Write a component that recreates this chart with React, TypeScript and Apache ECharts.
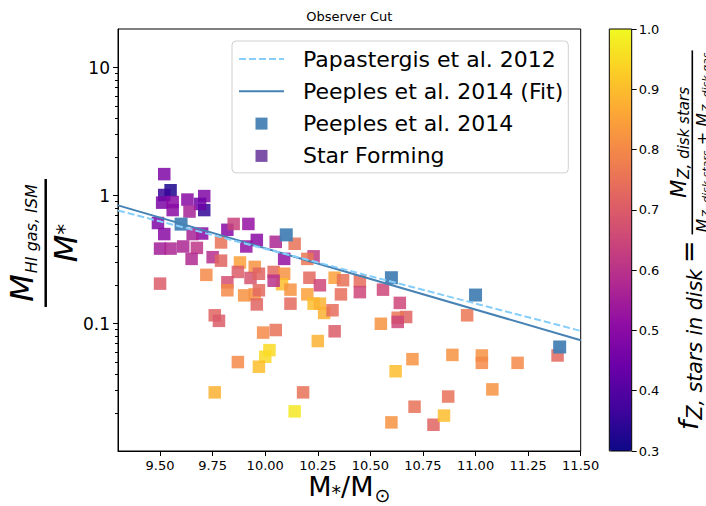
import React, { useEffect, useRef } from 'react';
import * as echarts from 'echarts';

// ---------- data ----------
// simulated galaxies: stellar mass (log Msun), HI gas fraction, f_Z stars in disk
const simMass = [
  9.52, 9.55, 9.52, 9.51, 9.56, 9.63, 9.71, 9.71, 9.69, 9.64, 9.56, 9.49, 9.52, 9.70, 9.655,
  9.50, 9.55, 9.61, 9.675, 9.65, 9.75, 9.79, 9.82, 9.85, 9.92, 9.96, 9.91, 10.05, 10.14, 10.09,
  10.23, 10.20, 9.79, 9.72, 9.88, 9.95, 9.87, 9.82, 9.93, 9.97, 9.50, 9.82, 9.90, 9.95, 9.96,
  9.97, 10.04, 10.09, 10.08, 10.12, 10.20, 10.12, 10.23, 10.26, 10.28, 10.32, 10.21, 10.26, 10.33,
  10.37, 10.36, 10.45, 10.45, 10.56, 10.64, 10.67, 10.63, 10.63, 10.55, 10.96, 9.76, 9.78, 9.99,
  10.05, 10.33, 10.25, 10.02, 10.00, 9.97, 9.87, 9.76, 10.18, 10.14, 10.60, 10.62, 10.70, 10.71,
  10.80, 10.85, 10.87, 10.89, 11.03, 11.03, 11.08, 11.20, 11.39, 10.04,
];
const simRatio = [
  1.47, 1.10, 1.01, 0.88, 0.89, 0.93, 0.99, 0.77, 0.86, 0.75, 0.77, 0.61, 0.50, 0.505, 0.50,
  0.385, 0.385, 0.40, 0.39, 0.32, 0.33, 0.43, 0.54, 0.60, 0.60, 0.45, 0.40, 0.435, 0.42, 0.32,
  0.335, 0.32, 0.31, 0.24, 0.30, 0.277, 0.253, 0.21, 0.227, 0.245, 0.205, 0.182, 0.166, 0.169, 0.141,
  0.182, 0.253, 0.245, 0.203, 0.184, 0.169, 0.143, 0.143, 0.143, 0.121, 0.127, 0.228, 0.199, 0.228,
  0.218, 0.169, 0.214, 0.176, 0.184, 0.145, 0.1125, 0.111, 0.103, 0.0996, 0.116, 0.116, 0.105, 0.085,
  0.089, 0.087, 0.073, 0.062, 0.055, 0.046, 0.050, 0.029, 0.029, 0.0206, 0.0169, 0.0424, 0.0527, 0.0224,
  0.0162, 0.0191, 0.0269, 0.0569, 0.0563, 0.0493, 0.0306, 0.0493, 0.0563, 0.216,
];
const simFz = [
  0.48, 0.32, 0.36, 0.47, 0.50, 0.50, 0.48, 0.35, 0.45, 0.56, 0.50, 0.48, 0.50, 0.50, 0.56,
  0.55, 0.57, 0.57, 0.61, 0.58, 0.59, 0.75, 0.50, 0.64, 0.52, 0.50, 0.52, 0.57, 0.75, 0.52,
  0.62, 0.76, 0.72, 0.80, 0.85, 0.82, 0.70, 0.67, 0.68, 0.72, 0.70, 0.80, 0.82, 0.82, 0.72,
  0.73, 0.73, 0.82, 0.90, 0.82, 0.85, 0.73, 0.90, 0.88, 0.88, 0.74, 0.73, 0.65, 0.85,
  0.75, 0.74, 0.74, 0.65, 0.65, 0.65, 0.72, 0.76, 0.65, 0.82, 0.76, 0.72, 0.70, 0.80,
  0.75, 0.70, 0.88, 0.95, 0.95, 0.90, 0.80, 0.88, 0.75, 0.97, 0.82, 0.90, 0.82, 0.75,
  0.72, 0.90, 0.75, 0.82, 0.82, 0.80, 0.82, 0.80, 0.73, 0.60,
];

// Peeples et al. 2014 observations
const peeplesMass = [9.6, 10.1, 10.6, 11.0, 11.4];
const peeplesRatio = [0.598, 0.493, 0.228, 0.167, 0.0656];

// fit lines, evaluated at the axis ends
const fitMass = [9.3, 11.5];
const peeplesFit = [0.838, 0.0741];
const papastergisFit = [0.765, 0.0876];

// ticks
const xTicks = [9.5, 9.75, 10.0, 10.25, 10.5, 10.75, 11.0, 11.25, 11.5];
const yMajorTicks = [0.1, 1, 10];
const yMinorTicks = [0.02, 0.03, 0.04, 0.05, 0.06, 0.07, 0.08, 0.09, 0.2, 0.3, 0.4, 0.5, 0.6, 0.7, 0.8, 0.9, 2, 3, 4, 5, 6, 7, 8, 9];
const cbTicks = [0.3, 0.4, 0.5, 0.6, 0.7, 0.8, 0.9, 1.0];
const plasma = ['#0d0887', '#41049d', '#6a00a8', '#8f0da4', '#b12a90', '#cc4778', '#e16462', '#f2844b', '#fca636', '#fcce25', '#f0f921'];

// ---------- helpers ----------
const FONT = '"DejaVu Sans"';
const L = (v: number) => Math.log10(v);
let measCtx: CanvasRenderingContext2D | null = null;
function textWidth(t: string, size: number, italic: boolean) {
  if (!measCtx) measCtx = document.createElement('canvas').getContext('2d');
  measCtx!.font = `${italic ? 'italic ' : ''}${size}px ${FONT}`;
  return measCtx!.measureText(t).width;
}
type Seg = { t: string; size: number; italic?: boolean; base: number; gap?: number };
function segsWidth(segs: Seg[]) {
  return segs.reduce((a, s) => a + (s.gap || 0) + textWidth(s.t, s.size, !!s.italic), 0);
}
function run(segs: Seg[], startX: number) {
  let x = startX;
  const els: any[] = [];
  for (const s of segs) {
    x += s.gap || 0;
    els.push({
      type: 'text', x, y: s.base - 0.346 * s.size, silent: true,
      style: {
        text: s.t, font: `${s.italic ? 'italic ' : ''}${s.size}px ${FONT}`, fill: '#000',
        align: 'left', verticalAlign: 'middle', textAlign: 'left', textVerticalAlign: 'middle',
      },
    });
    x += textWidth(s.t, s.size, !!s.italic);
  }
  return { els, end: x };
}
function centered(segs: Seg[], cx: number) {
  return run(segs, cx - segsWidth(segs) / 2);
}

function buildGraphics() {
  const g: any[] = [];
  // title
  g.push({ type: 'text', x: 349.3, y: 16, silent: true, style: { text: 'Observer Cut', font: `13px ${FONT}`, fill: '#000', align: 'center', verticalAlign: 'middle', textAlign: 'center', textVerticalAlign: 'middle' } });
  // x-axis name
  g.push(...centered([
    { t: 'M', size: 27, base: 496 },
    { t: '*', size: 19, base: 499 },
    { t: '/M', size: 27, base: 496 },
    { t: '\u2299', size: 19, base: 502, gap: 1 },
  ], 349.3).els);
  // y-axis name (rotated fraction)
  const yl: any[] = [];
  yl.push(...centered([
    { t: 'M', size: 32, italic: true, base: -13 },
    { t: 'HI gas, ISM', size: 16, italic: true, base: -9, gap: 1 },
  ], 0).els);
  yl.push({ type: 'line', silent: true, shape: { x1: -64, y1: 0, x2: 64, y2: 0 }, style: { stroke: '#000', lineWidth: 2.5 } });
  yl.push(...centered([
    { t: 'M', size: 32, italic: true, base: 31 },
    { t: '*', size: 22, base: 26 },
  ], 0).els);
  g.push({ type: 'group', x: 45.7, y: 243, rotation: Math.PI / 2, children: yl });
  // colorbar label
  const cl: any[] = [];
  const r1 = run([
    { t: 'f', size: 27, italic: true, base: 0 },
    { t: 'Z, stars in disk', size: 20.5, italic: true, base: 4, gap: 1 },
    { t: '=', size: 27, base: 0, gap: 6 },
  ], 0);
  cl.push(...r1.els);
  const num: Seg[] = [
    { t: 'M', size: 21, italic: true, base: -12 },
    { t: 'Z, disk stars', size: 15, italic: true, base: -9, gap: 1 },
  ];
  const den: Seg[] = [
    { t: 'M', size: 16, italic: true, base: 10 },
    { t: 'Z, disk stars', size: 11, italic: true, base: 12.5, gap: 1 },
    { t: ' + ', size: 16, base: 10 },
    { t: 'M', size: 16, italic: true, base: 10 },
    { t: 'Z, disk gas', size: 11, italic: true, base: 12.5, gap: 1 },
  ];
  const fx = r1.end + 6;
  const len = Math.max(segsWidth(num), segsWidth(den)) + 4;
  cl.push({ type: 'line', silent: true, shape: { x1: fx, y1: -5.7, x2: fx + len, y2: -5.7 }, style: { stroke: '#000', lineWidth: 1.6 } });
  cl.push(...centered(num, fx + len / 2).els);
  cl.push(...centered(den, fx + len / 2).els);
  g.push({ type: 'group', x: 698, y: 430, rotation: Math.PI / 2, children: cl });
  // colorbar outline
  g.push({ type: 'rect', silent: true, z: 100, shape: { x: 609.3, y: 29, width: 22.4, height: 422 }, style: { fill: 'none', stroke: '#000', lineWidth: 1 } });
  return g;
}

const SQUARE = 'path://M0,0L12,0L12,12L0,12Z';
const hiddenSymbol = { color: 'rgba(0,0,0,0)', borderColor: 'rgba(0,0,0,0)', borderWidth: 0 };

function buildOption(): any {
  const simData = simMass.map((m, i) => [m, L(simRatio[i]), simFz[i]]);
  const peeplesData = peeplesMass.map((m, i) => [m, L(peeplesRatio[i])]);
  const fitData = fitMass.map((m, i) => [m, L(peeplesFit[i])]);
  const papData = fitMass.map((m, i) => [m, L(papastergisFit[i])]);
  const yMin = L(0.0101);
  const yMax = L(20);
  const black = { color: '#000', width: 1 };
  return {
    animation: false,
    backgroundColor: '#fff',
    textStyle: { fontFamily: 'DejaVu Sans' },
    grid: [
      { left: 118, top: 29, width: 462.7, height: 422, show: true, borderColor: '#000', borderWidth: 1, backgroundColor: 'transparent' },
      { left: 609.3, top: 29, width: 22.4, height: 422, show: false },
    ],
    xAxis: [
      {
        type: 'value', gridIndex: 0, min: 9.3, max: 11.5,
        axisLine: { show: true, onZero: false, lineStyle: black },
        axisTick: { show: true, customValues: xTicks, length: 5, lineStyle: black },
        axisLabel: { customValues: xTicks, formatter: (v: number) => v.toFixed(2), fontSize: 13, color: '#000', margin: 8, fontFamily: 'DejaVu Sans' },
        splitLine: { show: false },
      },
      { type: 'value', gridIndex: 1, min: 0, max: 1, show: false, axisLine: { onZero: false } },
    ],
    yAxis: [
      {
        type: 'value', gridIndex: 0, min: yMin, max: yMax, position: 'left',
        axisLine: { show: true, onZero: false, lineStyle: black },
        axisTick: { show: true, customValues: yMajorTicks.map(L), length: 5, lineStyle: black },
        axisLabel: {
          customValues: yMajorTicks.map(L), fontSize: 17, color: '#000', margin: 8, fontFamily: 'DejaVu Sans',
          formatter: (v: number) => { const p = Math.pow(10, v); return p >= 1 ? String(Math.round(p)) : p.toFixed(1); },
        },
        splitLine: { show: false },
      },
      {
        type: 'value', gridIndex: 0, min: yMin, max: yMax, position: 'left',
        axisLine: { show: false, onZero: false },
        axisTick: { show: true, customValues: yMinorTicks.map(L), length: 3, lineStyle: black },
        axisLabel: { show: false },
        splitLine: { show: false },
      },
      {
        type: 'value', gridIndex: 1, min: 0.3, max: 1.0, position: 'right',
        axisLine: { show: false, onZero: false },
        axisTick: { show: true, customValues: cbTicks, length: 5, lineStyle: black },
        axisLabel: { customValues: cbTicks, formatter: (v: number) => v.toFixed(1), fontSize: 13, color: '#000', margin: 7, fontFamily: 'DejaVu Sans' },
        splitLine: { show: false },
      },
    ],
    visualMap: {
      type: 'continuous', min: 0.3, max: 1.0, dimension: 2, seriesIndex: 0,
      inRange: { color: plasma },
      left: 609.3, top: 29, itemWidth: 22.4, itemHeight: 422, padding: 0,
      calculable: false, hoverLink: false, text: null, showLabel: false,
      orient: 'vertical',
    },
    legend: {
      orient: 'vertical', left: 232, top: 41, padding: [7, 5, 6, 6], itemGap: 10.3,
      itemWidth: 45, itemHeight: 12, symbolKeepAspect: true,
      backgroundColor: 'rgba(255,255,255,0.85)', borderColor: '#d0d0d0', borderWidth: 1, borderRadius: 4,
      textStyle: { fontSize: 22, fontFamily: 'DejaVu Sans', color: '#000', padding: [0, 0, 0, 14], lineHeight: 22 },
      data: [
        { name: 'Papastergis et al. 2012', itemStyle: hiddenSymbol },
        { name: 'Peeples et al. 2014 (Fit)', itemStyle: hiddenSymbol },
        { name: 'Peeples et al. 2014', icon: SQUARE, itemStyle: { color: '#4682b4' } },
        { name: 'Star Forming', icon: SQUARE, itemStyle: { color: '#663399' } },
      ],
      selectedMode: false,
    },
    series: [
      {
        name: 'Star Forming', type: 'scatter', xAxisIndex: 0, yAxisIndex: 0, data: simData,
        symbol: 'rect', symbolSize: 12.5, itemStyle: { color: '#663399', opacity: 0.85 }, z: 2,
      },
      {
        name: 'Peeples et al. 2014', type: 'scatter', xAxisIndex: 0, yAxisIndex: 0, data: peeplesData,
        symbol: 'rect', symbolSize: 13, itemStyle: { color: '#4682b4', opacity: 0.95 }, z: 3,
      },
      {
        name: 'Peeples et al. 2014 (Fit)', type: 'line', xAxisIndex: 0, yAxisIndex: 0, data: fitData,
        symbol: 'none', lineStyle: { color: '#4682b4', width: 2 }, itemStyle: { color: '#4682b4' }, z: 4,
      },
      {
        name: 'Papastergis et al. 2012', type: 'line', xAxisIndex: 0, yAxisIndex: 0, data: papData,
        symbol: 'none', lineStyle: { color: '#87cefa', width: 2, type: [7, 3] }, itemStyle: { color: '#87cefa' }, z: 4,
      },
    ],
    graphic: buildGraphics(),
  };
}

export default function App() {
  const ref = useRef<HTMLDivElement>(null);
  useEffect(() => {
    const chart = echarts.init(ref.current!, null, { renderer: 'svg' });
    chart.setOption(buildOption());
    return () => chart.dispose();
  }, []);
  return <div ref={ref} style={{ position: 'fixed', left: 0, top: 0, width: 706, height: 506, background: '#fff' }} />;
}
